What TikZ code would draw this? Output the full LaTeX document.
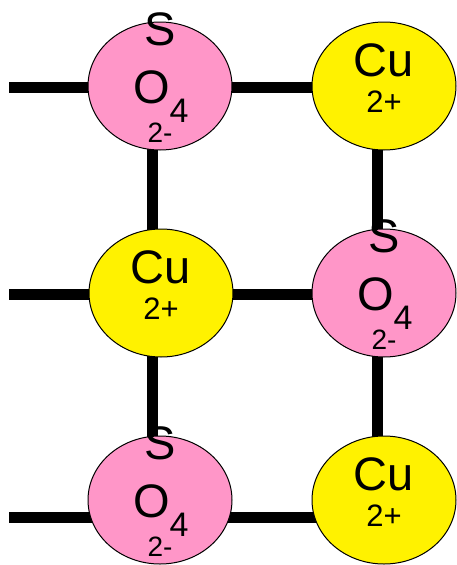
\documentclass[tikz,border=0pt]{standalone}
\usepackage{fontspec}
\setmainfont{Liberation Sans}
\usetikzlibrary{shapes.geometric,backgrounds}
\definecolor{ionpink}{RGB}{255,150,200}

\begin{document}
\begin{tikzpicture}[x=1pt,y=-1pt,
	bond/.style={line width=11pt},
	ion/.style={ellipse,draw,line width=1pt,minimum width=144pt,minimum height=128pt,inner sep=0pt},
	sulfate/.style={ion,fill=ionpink},
	copper/.style={ion,fill=yellow},
	big/.style={font=\fontsize{47}{47}\selectfont,inner sep=0pt,anchor=base},
	small/.style={font=\fontsize{29}{29}\selectfont,inner sep=0pt,anchor=base}]
	\useasboundingbox (0,0) rectangle (456,565);
	% ions
	\node[sulfate] (so1) at (160,86) {};
	\node[copper] (cu1) at (384,86) {};
	\node[copper] (cu2) at (161,293) {};
	\node[sulfate] (so2) at (384,293) {};
	\node[sulfate] (so3) at (160,500) {};
	\node[copper] (cu3) at (384,500) {};
	% free ends of the rows
	\coordinate (rowa) at (9,87);
	\coordinate (rowb) at (9,294);
	\coordinate (rowc) at (9,517);
	\begin{scope}[on background layer]
		\draw[bond] (rowa) -- (rowa -| cu1);
		\draw[bond] (rowb) -- (rowb -| so2);
		\draw[bond] (rowc) -- (rowc -| cu3);
		\draw[bond] ([xshift=-8pt]so1.center) -- ([xshift=-8pt]so3.center);
		\draw[bond] ([xshift=-7pt]cu1.center) -- ([xshift=-7pt]cu3.center);
	\end{scope}
	% labels
	\foreach \s in {so1,so2,so3} {
		\node[big] (\s-s) at ([yshift=41pt]\s.center) {S};
		\node[big] (\s-o) at ([xshift=-8pt,yshift=-17pt]\s.center) {O};
		\node[small,font=\fontsize{34}{34}\selectfont] (\s-n) at ([xshift=19pt,yshift=-36pt]\s.center) {4};
		\node[small,font=\fontsize{28}{28}\selectfont] (\s-q) at ([yshift=-56pt]\s.center) {2-};
	}
	\foreach \c in {cu1,cu2,cu3} {
		\node[big] (\c-cu) at ([yshift=10pt]\c.center) {Cu};
		\node[small,font=\fontsize{31}{31}\selectfont] (\c-q) at ([yshift=-26pt]\c.center) {2+};
	}
\end{tikzpicture}
\end{document}
